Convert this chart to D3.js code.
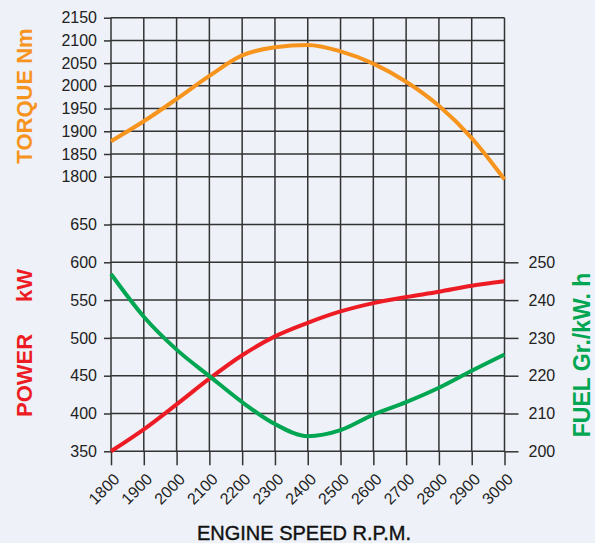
<!DOCTYPE html>
<html>
<head>
<meta charset="utf-8">
<script src="https://cdn.jsdelivr.net/npm/d3@7"></script>
<style>
  html, body { margin: 0; padding: 0; background: #eef1f8; }
  svg { display: block; font-family: "Liberation Sans", Arial, sans-serif; }
  .axis path { display: none; }
  .axis line { stroke: #333; stroke-width: 1.5; }
  .axis text { font-size: 16px; fill: #222; }
  .grid { stroke: #333; stroke-width: 1.5; }
</style>
</head>
<body>
<svg id="engine" width="595" height="543"></svg>
<script>
var rpm = [1800, 1900, 2000, 2100, 2200, 2300, 2400, 2500, 2600, 2700, 2800, 2900, 3000];
var torque = [1878, 1922, 1971, 2022, 2067, 2085, 2090, 2076, 2049, 2009, 1956, 1885, 1794];
var power = [350, 379, 412, 446, 477, 502, 520, 535, 546, 554, 561, 569, 575];
var fuel = [246.9, 235.6, 226.9, 219.9, 213, 207.2, 204, 205.6, 209.7, 213, 216.8, 221.3, 225.6];

var torqueTicks = [1800, 1850, 1900, 1950, 2000, 2050, 2100, 2150];
var powerTicks = [350, 400, 450, 500, 550, 600, 650];
var fuelTicks = [200, 210, 220, 230, 240, 250];

var svg = d3.select('#engine');

var x = d3.scaleLinear().domain([1800, 3000]).range([111, 504.5]),
    yT = d3.scaleLinear().domain([1800, 2150]).range([176.7, 17.7]),
    yP = d3.scaleLinear().domain([350, 650]).range([451.3, 224.5]),
    yF = d3.scaleLinear().domain([200, 250]).range([451.3, 262.3]);

// grid
var grid = svg.append('g');
grid.selectAll('line.v')
    .data(rpm)
  .enter().append('line')
    .attr('class', 'grid')
    .attr('x1', function(d) { return x(d); })
    .attr('x2', function(d) { return x(d); })
    .attr('y1', yT(2150))
    .attr('y2', yP(350));
grid.selectAll('line.ht')
    .data(torqueTicks)
  .enter().append('line')
    .attr('class', 'grid')
    .attr('x1', x(1800))
    .attr('x2', x(3000))
    .attr('y1', function(d) { return yT(d); })
    .attr('y2', function(d) { return yT(d); });
grid.selectAll('line.hp')
    .data(powerTicks)
  .enter().append('line')
    .attr('class', 'grid')
    .attr('x1', x(1800))
    .attr('x2', x(3000))
    .attr('y1', function(d) { return yP(d); })
    .attr('y2', function(d) { return yP(d); });

// axes
svg.append('g').attr('class', 'axis')
    .attr('transform', 'translate(' + x(1800) + ',0)')
    .call(d3.axisLeft(yT).tickValues(torqueTicks).tickSize(7).tickPadding(7).tickFormat(d3.format('d')));
svg.append('g').attr('class', 'axis')
    .attr('transform', 'translate(' + x(1800) + ',0)')
    .call(d3.axisLeft(yP).tickValues(powerTicks).tickSize(7).tickPadding(7).tickFormat(d3.format('d')));
svg.append('g').attr('class', 'axis')
    .attr('transform', 'translate(' + x(3000) + ',0)')
    .call(d3.axisRight(yF).tickValues(fuelTicks).tickSize(14).tickPadding(10).tickFormat(d3.format('d')));

var xAxis = svg.append('g').attr('class', 'axis')
    .attr('transform', 'translate(0,' + yP(350) + ')')
    .call(d3.axisBottom(x).tickValues(rpm).tickSize(14).tickFormat(d3.format('d')));
xAxis.selectAll('text')
    .attr('x', 0)
    .attr('y', 0)
    .attr('text-anchor', 'end')
    .attr('dy', '0.35em')
    .attr('transform', 'translate(5,25) rotate(-45)');

// curves
var series = [
  { values: torque, y: yT, color: '#f7941d' },
  { values: power, y: yP, color: '#ed1c24' },
  { values: fuel, y: yF, color: '#00a651' }
];

series.forEach(function(s) {
  var line = d3.line()
      .x(function(d, i) { return x(rpm[i]); })
      .y(function(d) { return s.y(d); })
      .curve(d3.curveMonotoneX);
  svg.append('path')
      .datum(s.values)
      .attr('d', line)
      .attr('fill', 'none')
      .attr('stroke', s.color)
      .attr('stroke-width', 4);
});

// titles
function vTitle(cx, cy, anchor, size, color) {
  return svg.append('text')
      .attr('transform', 'translate(' + cx + ',' + cy + ') rotate(-90)')
      .attr('text-anchor', anchor)
      .attr('dy', '0.35em')
      .style('font-size', size + 'px')
      .style('font-weight', 'bold')
      .attr('fill', color);
}
vTitle(24, 96, 'middle', 22, '#f7941d').text('TORQUE Nm');
var pw = vTitle(24, 417, 'start', 22, '#ed1c24');
pw.append('tspan').text('POWER');
pw.append('tspan').attr('dx', 32).text('kW');
vTitle(582, 355, 'middle', 23, '#00a651').text('FUEL Gr./kW. h');

svg.append('text')
    .attr('x', 304)
    .attr('y', 540)
    .attr('text-anchor', 'middle')
    .style('font-size', '20px')
    .attr('fill', '#111')
    .attr('stroke', '#111')
    .attr('stroke-width', 0.4)
    .text('ENGINE SPEED R.P.M.');
</script>
</body>
</html>
